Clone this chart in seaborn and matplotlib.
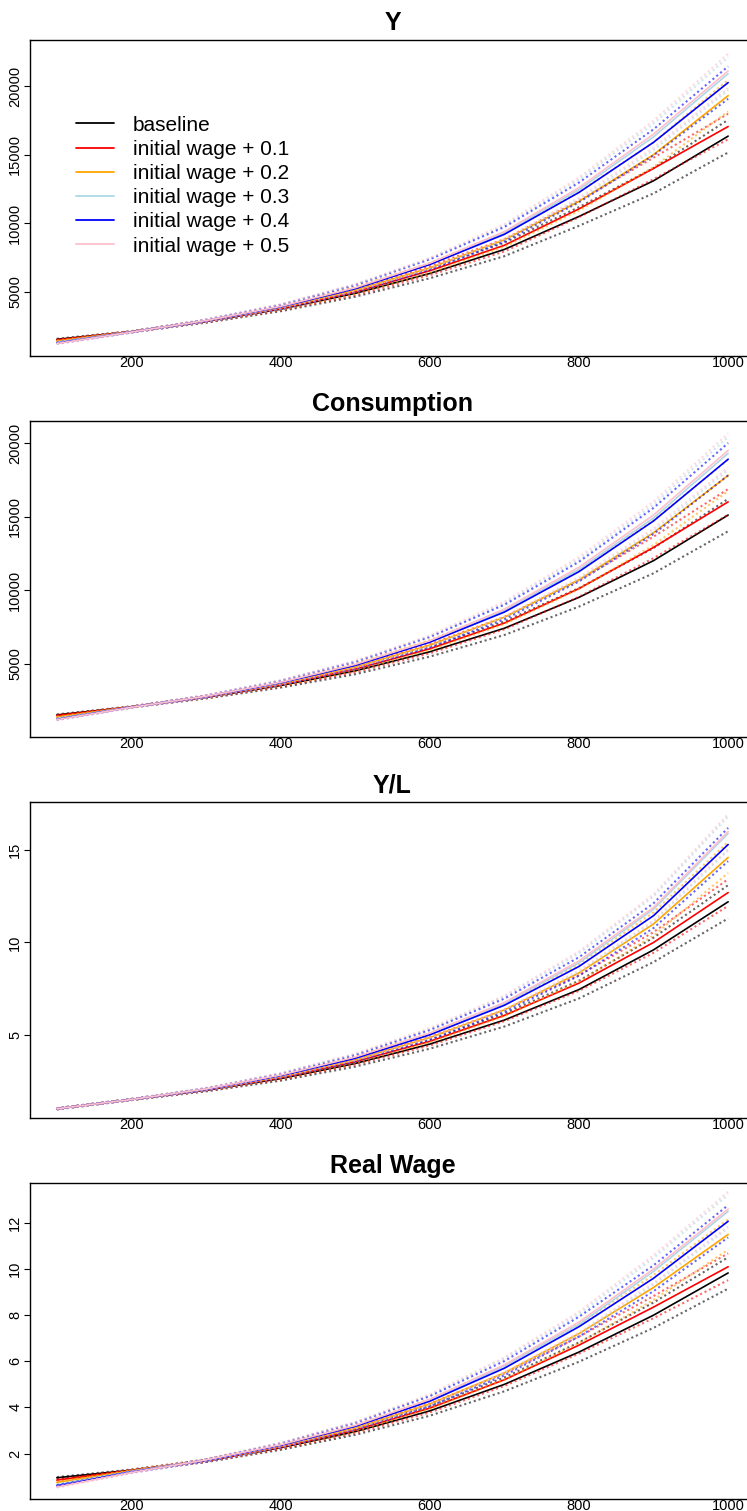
import numpy as np
import pandas as pd
import seaborn as sns
import matplotlib
matplotlib.use("Agg")
import matplotlib.pyplot as plt
from matplotlib.lines import Line2D

# Simulation periods at which the series are recorded
periods = [100, 200, 300, 400, 500, 600, 700, 800, 900, 1000]

scenarios = ["baseline", "initial wage + 0.1", "initial wage + 0.2",
             "initial wage + 0.3", "initial wage + 0.4", "initial wage + 0.5"]
colors = ["black", "red", "orange", "lightblue", "blue", "pink"]

# Output (Y): Monte Carlo mean and half-width of the dotted band
y_mean = [
    [1550, 2110, 2850, 3750, 4900, 6350, 8100, 10500, 13100, 16350],
    [1500, 2110, 2870, 3800, 5000, 6550, 8400, 11050, 14000, 17050],
    [1420, 2100, 2890, 3860, 5120, 6750, 8800, 11600, 15000, 19300],
    [1330, 2090, 2910, 3930, 5280, 7050, 9300, 12450, 16300, 20900],
    [1280, 2085, 2900, 3910, 5240, 7000, 9200, 12250, 15900, 20250],
    [1250, 2080, 2920, 3950, 5310, 7100, 9400, 12600, 16500, 21100],
]
y_band = [
    [45, 40, 85, 150, 245, 350, 490, 680, 920, 1190],
    [45, 40, 80, 140, 230, 330, 450, 600, 780, 930],
    [45, 40, 85, 150, 250, 360, 500, 680, 900, 1150],
    [45, 40, 85, 155, 260, 380, 530, 730, 960, 1200],
    [45, 40, 85, 155, 260, 380, 530, 720, 950, 1180],
    [45, 40, 85, 155, 260, 380, 540, 740, 980, 1250],
]

# Consumption
c_mean = [
    [1500, 2050, 2700, 3500, 4500, 5800, 7400, 9500, 12000, 15100],
    [1450, 2050, 2720, 3560, 4620, 6000, 7750, 10100, 12900, 16000],
    [1350, 2040, 2740, 3620, 4750, 6250, 8150, 10700, 13900, 17800],
    [1250, 2030, 2760, 3700, 4900, 6500, 8600, 11400, 14900, 19300],
    [1200, 2030, 2750, 3680, 4870, 6450, 8500, 11250, 14700, 18900],
    [1180, 2020, 2770, 3720, 4940, 6550, 8700, 11550, 15100, 19500],
]
c_band = [
    [40, 35, 80, 140, 230, 330, 460, 630, 860, 1100],
    [40, 35, 75, 130, 215, 310, 420, 560, 730, 870],
    [40, 35, 80, 140, 235, 340, 470, 640, 840, 1070],
    [40, 35, 80, 145, 245, 355, 495, 680, 900, 1120],
    [40, 35, 80, 145, 245, 355, 495, 670, 890, 1100],
    [40, 35, 80, 145, 245, 355, 505, 690, 920, 1160],
]

# Labour productivity (Y/L)
yl_mean = [
    [1.00, 1.50, 2.00, 2.63, 3.45, 4.50, 5.80, 7.45, 9.60, 12.20],
    [1.00, 1.50, 2.02, 2.68, 3.55, 4.65, 6.05, 7.80, 10.00, 12.70],
    [1.00, 1.50, 2.04, 2.73, 3.65, 4.85, 6.35, 8.35, 11.00, 14.60],
    [1.00, 1.50, 2.06, 2.80, 3.77, 5.05, 6.70, 8.90, 11.80, 15.90],
    [1.00, 1.50, 2.05, 2.78, 3.73, 5.00, 6.60, 8.70, 11.45, 15.30],
    [1.00, 1.50, 2.07, 2.82, 3.80, 5.10, 6.75, 9.00, 11.90, 16.00],
]
yl_band = [
    [0.03, 0.03, 0.06, 0.11, 0.17, 0.25, 0.35, 0.48, 0.66, 0.90],
    [0.03, 0.03, 0.06, 0.10, 0.16, 0.23, 0.31, 0.42, 0.56, 0.72],
    [0.03, 0.03, 0.06, 0.11, 0.17, 0.25, 0.34, 0.47, 0.63, 0.84],
    [0.03, 0.03, 0.06, 0.11, 0.18, 0.26, 0.37, 0.51, 0.69, 0.92],
    [0.03, 0.03, 0.06, 0.11, 0.18, 0.26, 0.36, 0.50, 0.67, 0.90],
    [0.03, 0.03, 0.06, 0.11, 0.18, 0.27, 0.37, 0.52, 0.70, 0.95],
]

# Real wage
w_mean = [
    [0.95, 1.28, 1.68, 2.25, 2.95, 3.85, 5.00, 6.40, 8.00, 9.83],
    [0.85, 1.27, 1.69, 2.28, 3.02, 3.97, 5.20, 6.70, 8.35, 10.10],
    [0.75, 1.25, 1.70, 2.32, 3.10, 4.15, 5.50, 7.20, 9.20, 11.50],
    [0.65, 1.22, 1.71, 2.36, 3.20, 4.30, 5.80, 7.60, 9.90, 12.50],
    [0.60, 1.20, 1.70, 2.35, 3.18, 4.27, 5.70, 7.50, 9.60, 12.07],
    [0.55, 1.18, 1.72, 2.38, 3.22, 4.35, 5.85, 7.70, 10.00, 12.60],
]
w_band = [
    [0.03, 0.03, 0.05, 0.09, 0.14, 0.21, 0.30, 0.42, 0.55, 0.68],
    [0.03, 0.03, 0.05, 0.08, 0.13, 0.19, 0.27, 0.37, 0.48, 0.58],
    [0.03, 0.03, 0.05, 0.09, 0.14, 0.21, 0.30, 0.41, 0.54, 0.66],
    [0.03, 0.03, 0.05, 0.09, 0.15, 0.22, 0.32, 0.44, 0.58, 0.72],
    [0.03, 0.03, 0.05, 0.09, 0.15, 0.22, 0.31, 0.43, 0.56, 0.70],
    [0.03, 0.03, 0.05, 0.09, 0.15, 0.23, 0.32, 0.45, 0.60, 0.75],
]

titles = ["Y", "Consumption", "Y/L", "Real Wage"]
y_ticks = [[5000, 10000, 15000, 20000], [5000, 10000, 15000, 20000],
           [5, 10, 15], [2, 4, 6, 8, 10, 12]]
y_limits = [(340, 23350), (0, 21500), (0.5, 17.6), (0.03, 13.73)]
x_ticks = [200, 400, 600, 800, 1000]

sns.set_style("white")
plt.rcParams["font.family"] = ["Liberation Sans", "DejaVu Sans"]
for key in ("text.color", "axes.labelcolor", "xtick.color", "ytick.color",
            "axes.edgecolor"):
    plt.rcParams[key] = "black"

W, H = 747, 1511
fig = plt.figure(figsize=(W / 100, H / 100), dpi=100)

panel_px = [(40, 356), (421, 737), (802, 1118), (1183, 1499)]
left_px, right_px = 30, 755

dotted = (0, (1.0, 1.4))

for k, (top, bottom) in enumerate(panel_px):
    ax = fig.add_axes([left_px / W, 1 - bottom / H,
                       (right_px - left_px) / W, (bottom - top) / H])
    means, bands = [(y_mean, y_band), (c_mean, c_band),
                    (yl_mean, yl_band), (w_mean, w_band)][k]
    for i, col in enumerate(colors):
        m = np.array(means[i], dtype=float)
        b = np.array(bands[i], dtype=float)
        df = pd.DataFrame({"t": periods, "mean": m,
                           "lo": m - b, "hi": m + b})
        sns.lineplot(data=df, x="t", y="mean", color=col, lw=1.2,
                     ax=ax, legend=False, estimator=None)
        for edge in ("lo", "hi"):
            sns.lineplot(data=df, x="t", y=edge, color=col, lw=1.5,
                         alpha=0.6, linestyle=dotted, ax=ax,
                         legend=False, estimator=None)
    ax.set_xlim(64, 1036)
    ax.set_ylim(*y_limits[k])
    ax.set_xticks(x_ticks)
    ax.set_yticks(y_ticks[k])
    ax.set_xlabel("")
    ax.set_ylabel("")
    ax.set_title(titles[k], fontsize=18, fontweight="bold", pad=7,
                 color="black")
    ax.tick_params(axis="x", length=0, pad=0, labelsize=10.5,
                   labelcolor="black")
    ax.tick_params(axis="y", length=4, width=0.8, pad=1.5, labelsize=10.5,
                   left=True, direction="out", labelcolor="black")
    for lab in ax.get_yticklabels():
        lab.set_rotation(90)
        lab.set_va("center")
    for sp in ax.spines.values():
        sp.set_color("black")
        sp.set_linewidth(1.0)

    if k == 0:
        handles = [Line2D([0], [0], color=c, lw=1.3) for c in colors]
        leg = ax.legend(handles, scenarios, loc="upper left",
                        bbox_to_anchor=(27 / (right_px - left_px), 0.82),
                        frameon=False, fontsize=15, handlelength=1.85,
                        handletextpad=0.9, labelspacing=0.25)
        for txt in leg.get_texts():
            txt.set_color("black")

fig.savefig("out.png", dpi=100)
